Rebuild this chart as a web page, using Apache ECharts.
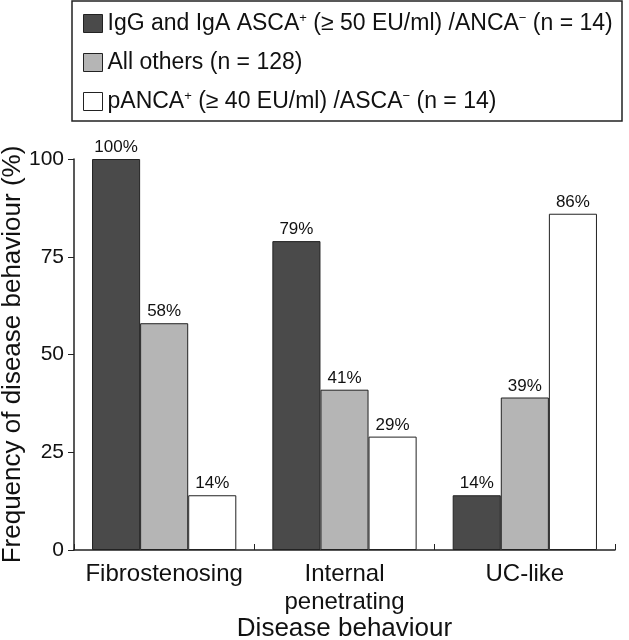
<!DOCTYPE html>
<html>
<head>
<meta charset="utf-8">
<script src="https://cdn.jsdelivr.net/npm/echarts@6/dist/echarts.min.js"></script>
<style>
  html, body { margin: 0; padding: 0; background: #fff; }
  #chart { width: 629px; height: 640px; }
</style>
</head>
<body>
<div id="chart"></div>
<script>
const categories = ['Fibrostenosing', 'Internal\npenetrating', 'UC-like'];
const seriesNames = ['asca', 'others', 'panca'];
const ascaValues = [100, 79, 14];
const othersValues = [58, 41, 39];
const pancaValues = [14, 29, 86];
const yTicks = [0, 25, 50, 75, 100];

const legendText = {
  asca: '{t|IgG and IgA ASCA}{s|+}{t| (≥ 50 EU/ml) /ANCA}{s|−}{t| (n = 14)}',
  others: '{t|All others (n = 128)}',
  panca: '{t|pANCA}{s|+}{t| (≥ 40 EU/ml) /ASCA}{s|−}{t| (n = 14)}'
};
const colors = ['#4a4a4a', '#b5b5b5', '#ffffff'];
const font = 'Arial, "Liberation Sans", sans-serif';

let myChart = echarts.init(document.getElementById('chart'));

function barSeries(name, data, color) {
  return {
    name: name,
    type: 'bar',
    data: data,
    barGap: 0,
    barCategoryGap: '20%',
    itemStyle: { color: color, borderColor: '#222', borderWidth: 1 },
    label: {
      show: true,
      position: 'top',
      distance: 3,
      formatter: '{c}%',
      color: '#111',
      fontSize: 17,
      fontFamily: font
    }
  };
}

let option = {
  animation: false,
  backgroundColor: '#fff',
  textStyle: { fontFamily: font },
  grid: { left: 74, right: 14, top: 159, bottom: 90, containLabel: false, outerBoundsMode: 'none' },
  legend: {
    orient: 'vertical',
    left: 78,
    top: 7,
    itemWidth: 19,
    itemHeight: 18,
    itemGap: 16,
    icon: 'rect',
    itemStyle: { borderColor: '#222', borderWidth: 1 },
    data: seriesNames,
    formatter: function(name) { return legendText[name]; },
    textStyle: {
      color: '#111',
      fontSize: 23,
      fontFamily: font,
      rich: {
        t: { fontSize: 23, fontFamily: font, color: '#111' },
        s: { fontSize: 13, fontFamily: font, color: '#111', verticalAlign: 'top', padding: [0, 0, 10, 0] }
      }
    }
  },
  graphic: [{
    type: 'rect',
    shape: { x: 72, y: 1, width: 550, height: 120 },
    style: { fill: 'none', stroke: '#222', lineWidth: 1.5 },
    silent: true
  }],
  xAxis: {
    type: 'category',
    data: categories,
    name: 'Disease behaviour',
    nameLocation: 'middle',
    nameGap: 66,
    nameMoveOverlap: false,
    nameTextStyle: { fontSize: 26, color: '#111', fontFamily: font },
    axisLine: { lineStyle: { color: '#222', width: 1.5 } },
    axisTick: { show: true, inside: true, length: 6, lineStyle: { color: '#222' } },
    axisLabel: { interval: 0, hideOverlap: false, color: '#111', fontSize: 24, margin: 10, lineHeight: 28, fontFamily: font }
  },
  yAxis: {
    type: 'value',
    min: 0,
    max: 100,
    interval: 25,
    name: 'Frequency of disease behaviour (%)',
    nameLocation: 'middle',
    nameGap: 48,
    nameMoveOverlap: false,
    nameTextStyle: { fontSize: 26, color: '#111', fontFamily: font },
    splitLine: { show: false },
    axisLine: { show: true, lineStyle: { color: '#222', width: 1.5 } },
    axisTick: { show: true, length: 6, lineStyle: { color: '#222' } },
    axisLabel: {
      color: '#111',
      fontSize: 21,
      margin: 10,
      fontFamily: font,
      formatter: function(v) { return yTicks.indexOf(v) >= 0 ? String(v) : ''; }
    }
  },
  series: [
    barSeries('asca', ascaValues, colors[0]),
    barSeries('others', othersValues, colors[1]),
    barSeries('panca', pancaValues, colors[2])
  ]
};

myChart.setOption(option);
</script>
</body>
</html>
